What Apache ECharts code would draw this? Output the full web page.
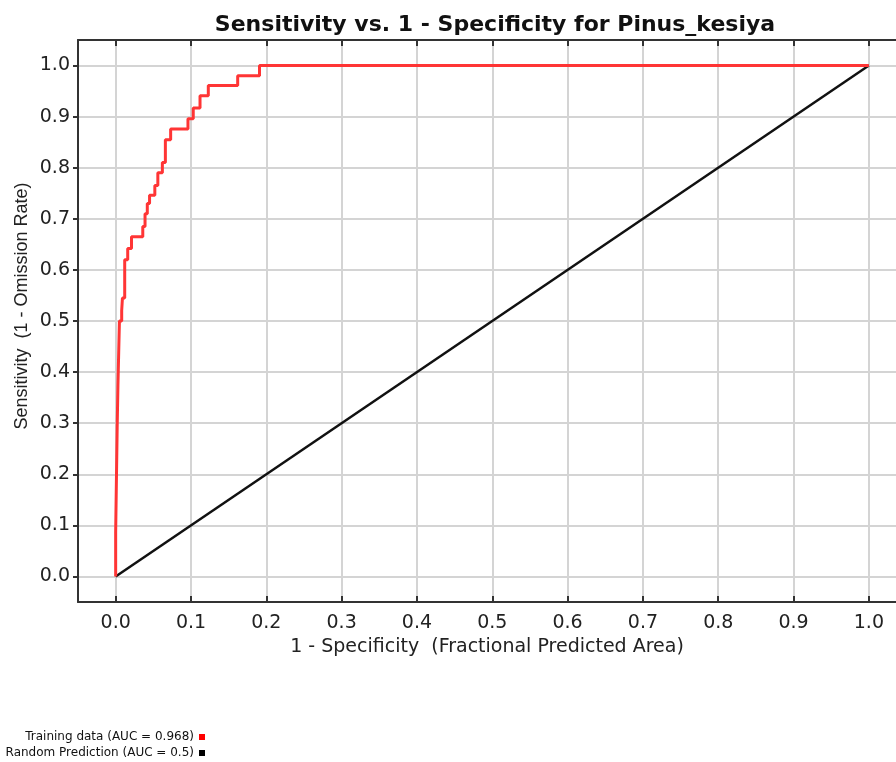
<!DOCTYPE html>
<html>
<head>
<meta charset="utf-8">
<script src="https://cdn.jsdelivr.net/npm/echarts@6/dist/echarts.min.js"></script>
<style>html,body{margin:0;padding:0;background:#fff;}#c{width:896px;height:762px;}</style>
</head>
<body>
<div id="c"></div>
<script>
// ROC corner points (x of each vertical rise, top of that rise)
const fpr = [0, 0, 0.002, 0.003, 0.005, 0.008, 0.009, 0.012, 0.016, 0.021, 0.036, 0.039, 0.042, 0.045, 0.052, 0.056, 0.062, 0.066, 0.073, 0.096, 0.103, 0.112, 0.123, 0.162, 0.191, 1.0];
const tpr = [0, 0.086, 0.29, 0.373, 0.50, 0.52, 0.545, 0.62, 0.642, 0.665, 0.685, 0.71, 0.73, 0.746, 0.765, 0.79, 0.81, 0.855, 0.876, 0.896, 0.917, 0.941, 0.961, 0.98, 1.0, 1.0];
const randX = [0, 1];
const randY = [0, 1];
const tickValues = [0, 0.1, 0.2, 0.3, 0.4, 0.5, 0.6, 0.7, 0.8, 0.9, 1.0];
const seriesNames = ['Training data (AUC = 0.968)', 'Random Prediction (AUC = 0.5)'];
const titleText = 'Sensitivity vs. 1 - Specificity for Pinus_kesiya';
const xName = '1 - Specificity  (Fractional Predicted Area)';
const yName = 'Sensitivity  (1 - Omission Rate)';

const chart = echarts.init(document.getElementById('c'), null, {renderer: 'canvas'});
const axisCommon = {
  type: 'value', min: -0.05, max: 1.05,
  axisLine: {show: true, onZero: false, lineStyle: {color: '#333', width: 2}},
  splitLine: {show: true, lineStyle: {color: '#d4d4d4', width: 2}}
};
const legendBase = {
  orient: 'vertical', align: 'right', right: 691, padding: 0,
  icon: 'rect', itemWidth: 6, itemHeight: 6,
  textStyle: {fontFamily: 'DejaVu Sans', fontSize: 12, color: '#111'}
};
chart.setOption({
  animation: false,
  backgroundColor: '#fff',
  title: {
    text: titleText, left: 490, textAlign: 'center', top: 9,
    textStyle: {fontFamily: 'DejaVu Sans', fontWeight: 'bold', fontSize: 22, color: '#111'}
  },
  grid: {left: 78, top: 40, right: 0, height: 562, containLabel: false},
  xAxis: [
    Object.assign({}, axisCommon, {
      max: 1.036,
      position: 'bottom',
      name: xName, nameLocation: 'middle', nameGap: 33,
      nameTextStyle: {fontFamily: 'DejaVu Sans', fontSize: 19, color: '#222', padding: [0, 0, 0, 0]},
      axisTick: {show: true, inside: true, length: 6, customValues: tickValues, lineStyle: {color: '#333', width: 2}},
      axisLabel: {show: true, margin: 12, customValues: tickValues, formatter: v => v.toFixed(1),
        fontFamily: 'DejaVu Sans', fontSize: 19, color: '#222'}
    }),
    Object.assign({}, axisCommon, {
      max: 1.036,
      position: 'top',
      splitLine: {show: false},
      axisTick: {show: true, inside: true, length: 6, customValues: tickValues, lineStyle: {color: '#333', width: 2}},
      axisLabel: {show: false}
    })
  ],
  yAxis: [
    Object.assign({}, axisCommon, {
      position: 'left',
      axisTick: {show: true, inside: false, length: 5, customValues: tickValues, lineStyle: {color: '#333', width: 2}},
      axisLabel: {show: true, margin: 8, customValues: tickValues, formatter: v => v.toFixed(1),
        fontFamily: 'DejaVu Sans', fontSize: 19, color: '#222'}
    })
  ],
  legend: [
    Object.assign({}, legendBase, {top: 731, data: [seriesNames[0]]}),
    Object.assign({}, legendBase, {top: 747, data: [seriesNames[1]]})
  ],
  graphic: [{
    type: 'text', x: 22, y: 306, rotation: Math.PI / 2,
    style: {text: yName, fontFamily: 'Liberation Sans', fontSize: 18, fill: '#222', align: 'center', verticalAlign: 'middle'}
  }],
  series: [
    {
      name: seriesNames[1], type: 'line', xAxisIndex: 0, yAxisIndex: 0,
      data: randX.map((x, i) => [x, randY[i]]),
      showSymbol: false, symbol: 'none',
      itemStyle: {color: '#000'},
      lineStyle: {color: '#111', width: 2.5}, z: 2
    },
    {
      name: seriesNames[0], type: 'line', xAxisIndex: 0, yAxisIndex: 0,
      data: fpr.map((x, i) => [x, tpr[i]]),
      step: 'end', showSymbol: false, symbol: 'none',
      itemStyle: {color: '#ff0000'},
      lineStyle: {color: '#ff3535', width: 3}, z: 3
    }
  ]
});
</script>
</body>
</html>
